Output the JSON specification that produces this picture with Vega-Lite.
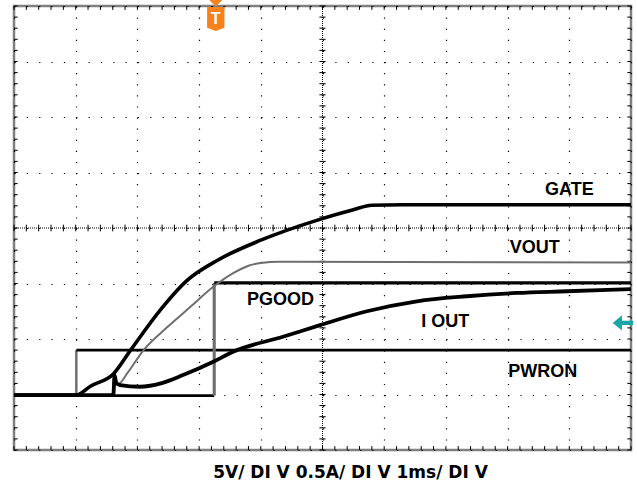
{
  "$schema": "https://vega.github.io/schema/vega-lite/v6.json",
  "autosize": "none",
  "width": 617,
  "height": 444,
  "padding": {"left": 14, "top": 6, "right": 6, "bottom": 35},
  "background": "white",
  "config": {"view": {"stroke": "#808080", "strokeWidth": 2.5}},
  "datasets": {
    "traces": [
      {"s": "PWRON low", "t": 0, "v": 0.99}, {"s": "PWRON low", "t": 1.01, "v": 0.99},
      {"s": "PWRON edge", "t": 1.01, "v": 0.99}, {"s": "PWRON edge", "t": 1.01, "v": 1.8},
      {"s": "PWRON high", "t": 1.01, "v": 1.8}, {"s": "PWRON high", "t": 10, "v": 1.8},
      {"s": "PGOOD low", "t": 0, "v": 0.98}, {"s": "PGOOD low", "t": 3.245, "v": 0.98},
      {"s": "PGOOD edge", "t": 3.245, "v": 0.98}, {"s": "PGOOD edge", "t": 3.245, "v": 3.01},
      {"s": "PGOOD high", "t": 3.245, "v": 3.01}, {"s": "PGOOD high", "t": 10, "v": 3.01},
      {"s": "VOUT", "t": 0, "v": 0.99}, {"s": "VOUT", "t": 1.61, "v": 0.99}, {"s": "VOUT", "t": 1.62, "v": 1.22},
      {"s": "VOUT", "t": 1.7, "v": 1.2}, {"s": "VOUT", "t": 1.84, "v": 1.39}, {"s": "VOUT", "t": 2.1, "v": 1.8},
      {"s": "VOUT", "t": 2.49, "v": 2.22}, {"s": "VOUT", "t": 2.86, "v": 2.58}, {"s": "VOUT", "t": 3.23, "v": 2.94},
      {"s": "VOUT", "t": 3.56, "v": 3.19}, {"s": "VOUT", "t": 3.8, "v": 3.32}, {"s": "VOUT", "t": 4.0, "v": 3.37},
      {"s": "VOUT", "t": 4.3, "v": 3.39}, {"s": "VOUT", "t": 10, "v": 3.38},
      {"s": "GATE", "t": 0, "v": 0.99}, {"s": "GATE", "t": 1.01, "v": 0.99}, {"s": "GATE", "t": 1.24, "v": 1.15},
      {"s": "GATE", "t": 1.61, "v": 1.37}, {"s": "GATE", "t": 1.89, "v": 1.8}, {"s": "GATE", "t": 2.37, "v": 2.52},
      {"s": "GATE", "t": 2.81, "v": 3.06}, {"s": "GATE", "t": 3.3, "v": 3.42}, {"s": "GATE", "t": 4.0, "v": 3.78},
      {"s": "GATE", "t": 4.97, "v": 4.16}, {"s": "GATE", "t": 5.5, "v": 4.33}, {"s": "GATE", "t": 5.8, "v": 4.41},
      {"s": "GATE", "t": 6.3, "v": 4.42}, {"s": "GATE", "t": 10, "v": 4.42},
      {"s": "IOUT", "t": 0, "v": 0.99}, {"s": "IOUT", "t": 1.61, "v": 0.99}, {"s": "IOUT", "t": 1.63, "v": 1.35},
      {"s": "IOUT", "t": 1.66, "v": 1.2}, {"s": "IOUT", "t": 1.72, "v": 1.17}, {"s": "IOUT", "t": 2.04, "v": 1.14},
      {"s": "IOUT", "t": 2.41, "v": 1.21}, {"s": "IOUT", "t": 2.74, "v": 1.35}, {"s": "IOUT", "t": 3.23, "v": 1.59},
      {"s": "IOUT", "t": 3.55, "v": 1.77}, {"s": "IOUT", "t": 4.36, "v": 2.04}, {"s": "IOUT", "t": 4.96, "v": 2.25},
      {"s": "IOUT", "t": 5.72, "v": 2.5}, {"s": "IOUT", "t": 6.53, "v": 2.68}, {"s": "IOUT", "t": 7.34, "v": 2.77},
      {"s": "IOUT", "t": 8.15, "v": 2.83}, {"s": "IOUT", "t": 8.96, "v": 2.86}, {"s": "IOUT", "t": 10, "v": 2.9}
    ],
    "labels": [
      {"label": "GATE", "t": 9.0, "v": 4.595},
      {"label": "VOUT", "t": 8.44, "v": 3.55},
      {"label": "PGOOD", "t": 4.32, "v": 2.61},
      {"label": "I OUT", "t": 6.99, "v": 2.22},
      {"label": "PWRON", "t": 8.57, "v": 1.32}
    ],
    "xs": [
      {"t": 0}, {"t": 0.2}, {"t": 0.4}, {"t": 0.6}, {"t": 0.8}, {"t": 1}, {"t": 1.2}, {"t": 1.4}, {"t": 1.6}, {"t": 1.8},
      {"t": 2}, {"t": 2.2}, {"t": 2.4}, {"t": 2.6}, {"t": 2.8}, {"t": 3}, {"t": 3.2}, {"t": 3.4}, {"t": 3.6}, {"t": 3.8},
      {"t": 4}, {"t": 4.2}, {"t": 4.4}, {"t": 4.6}, {"t": 4.8}, {"t": 5}, {"t": 5.2}, {"t": 5.4}, {"t": 5.6}, {"t": 5.8},
      {"t": 6}, {"t": 6.2}, {"t": 6.4}, {"t": 6.6}, {"t": 6.8}, {"t": 7}, {"t": 7.2}, {"t": 7.4}, {"t": 7.6}, {"t": 7.8},
      {"t": 8}, {"t": 8.2}, {"t": 8.4}, {"t": 8.6}, {"t": 8.8}, {"t": 9}, {"t": 9.2}, {"t": 9.4}, {"t": 9.6}, {"t": 9.8}, {"t": 10}
    ],
    "ys": [
      {"v": 0}, {"v": 0.2}, {"v": 0.4}, {"v": 0.6}, {"v": 0.8}, {"v": 1}, {"v": 1.2}, {"v": 1.4}, {"v": 1.6}, {"v": 1.8},
      {"v": 2}, {"v": 2.2}, {"v": 2.4}, {"v": 2.6}, {"v": 2.8}, {"v": 3}, {"v": 3.2}, {"v": 3.4}, {"v": 3.6}, {"v": 3.8},
      {"v": 4}, {"v": 4.2}, {"v": 4.4}, {"v": 4.6}, {"v": 4.8}, {"v": 5}, {"v": 5.2}, {"v": 5.4}, {"v": 5.6}, {"v": 5.8},
      {"v": 6}, {"v": 6.2}, {"v": 6.4}, {"v": 6.6}, {"v": 6.8}, {"v": 7}, {"v": 7.2}, {"v": 7.4}, {"v": 7.6}, {"v": 7.8}, {"v": 8}
    ],
    "trigger": [{"t": 3.27, "label": "T"}],
    "marker": [{"t": 9.87, "v": 2.29}]
  },
  "layer": [
    {
      "data": {"values": [{}]},
      "mark": {"type": "rule", "color": "black", "strokeWidth": 1, "strokeDash": [1, 1]},
      "encoding": {
        "x": {"datum": 5, "type": "quantitative", "scale": {"domain": [0, 10], "nice": false, "zero": false},
          "axis": {"values": [0, 1, 2, 3, 4, 5, 6, 7, 8, 9, 10], "grid": true, "gridColor": "black", "gridOpacity": 1,
            "gridWidth": 1.2, "gridDash": [1.2, 9.9], "ticks": false, "labels": false, "domain": false,
            "title": "5V/ DI V 0.5A/ DI V 1ms/ DI V", "titleFont": "DejaVu Sans", "titleFontSize": 17,
            "titleFontWeight": "bold", "titleColor": "black", "titleX": 336, "titleY": 27,
            "titleAlign": "center", "titleBaseline": "alphabetic", "titleAnchor": null}},
        "y": {"datum": 0, "type": "quantitative", "scale": {"domain": [0, 8], "nice": false, "zero": false},
          "axis": {"values": [0, 1, 2, 3, 4, 5, 6, 7, 8], "grid": true, "gridColor": "black", "gridOpacity": 1,
            "gridWidth": 1.2, "gridDash": [1.2, 11.14], "ticks": false, "labels": false, "domain": false, "title": null}},
        "y2": {"datum": 8}
      }
    },
    {
      "data": {"values": [{}]},
      "mark": {"type": "rule", "color": "black", "strokeWidth": 1, "strokeDash": [1, 1]},
      "encoding": {
        "y": {"datum": 4, "type": "quantitative"},
        "x": {"datum": 0, "type": "quantitative"},
        "x2": {"datum": 10}
      }
    },
    {
      "data": {"name": "xs"},
      "mark": {"type": "rule", "color": "black", "strokeWidth": 1},
      "encoding": {"x": {"field": "t", "type": "quantitative"}, "y": {"datum": 3.94}, "y2": {"datum": 4.06}}
    },
    {
      "data": {"name": "xs"},
      "mark": {"type": "rule", "color": "black", "strokeWidth": 1},
      "encoding": {"x": {"field": "t", "type": "quantitative"}, "y": {"datum": 0}, "y2": {"datum": 0.07}}
    },
    {
      "data": {"name": "xs"},
      "mark": {"type": "rule", "color": "black", "strokeWidth": 1},
      "encoding": {"x": {"field": "t", "type": "quantitative"}, "y": {"datum": 7.93}, "y2": {"datum": 8}}
    },
    {
      "data": {"name": "ys"},
      "mark": {"type": "rule", "color": "black", "strokeWidth": 1},
      "encoding": {"y": {"field": "v", "type": "quantitative"}, "x": {"datum": 4.95}, "x2": {"datum": 5.05}}
    },
    {
      "data": {"name": "ys"},
      "mark": {"type": "rule", "color": "black", "strokeWidth": 1},
      "encoding": {"y": {"field": "v", "type": "quantitative"}, "x": {"datum": 0}, "x2": {"datum": 0.06}}
    },
    {
      "data": {"name": "ys"},
      "mark": {"type": "rule", "color": "black", "strokeWidth": 1},
      "encoding": {"y": {"field": "v", "type": "quantitative"}, "x": {"datum": 9.94}, "x2": {"datum": 10}}
    },
    {
      "data": {"name": "traces"},
      "mark": {"type": "line", "interpolate": "monotone", "strokeCap": "butt"},
      "encoding": {
        "x": {"field": "t", "type": "quantitative"},
        "y": {"field": "v", "type": "quantitative"},
        "detail": {"field": "s"},
        "color": {"field": "s", "type": "nominal", "legend": null,
          "scale": {"domain": ["VOUT", "PWRON low", "PWRON edge", "PWRON high", "PGOOD low", "PGOOD edge", "PGOOD high", "GATE", "IOUT"],
            "range": ["#6e6e6e", "#000000", "#6e6e6e", "#000000", "#000000", "#6e6e6e", "#000000", "#000000", "#000000"]}},
        "strokeWidth": {"field": "s", "type": "nominal", "legend": null,
          "scale": {"domain": ["VOUT", "PWRON low", "PWRON edge", "PWRON high", "PGOOD low", "PGOOD edge", "PGOOD high", "GATE", "IOUT"],
            "range": [2, 3.8, 1.3, 3.8, 3.8, 1.3, 3.8, 3.8, 3.8]}}
      }
    },
    {
      "data": {"name": "labels"},
      "mark": {"type": "text", "font": "Liberation Sans", "fontSize": 18, "fontWeight": "bold", "color": "black", "align": "center", "baseline": "alphabetic"},
      "encoding": {
        "x": {"field": "t", "type": "quantitative"},
        "y": {"field": "v", "type": "quantitative"},
        "text": {"field": "label"}
      }
    },
    {
      "data": {"name": "trigger"},
      "mark": {"type": "point", "filled": true, "color": "#f7811d", "opacity": 1, "size": 169, "shape": "M-1,-0.5 L1,-0.5 L0,0.5 Z"},
      "encoding": {"x": {"field": "t", "type": "quantitative"}, "y": {"datum": 8.05}}
    },
    {
      "data": {"name": "trigger"},
      "mark": {"type": "point", "filled": true, "color": "#f7811d", "opacity": 1, "size": 300, "shape": "M-1,-1.375 L1,-1.375 L1,1.0 L0,1.375 L-1,1.0 Z"},
      "encoding": {"x": {"field": "t", "type": "quantitative"}, "y": {"datum": 7.766}}
    },
    {
      "data": {"name": "trigger"},
      "mark": {"type": "text", "font": "Liberation Sans", "fontSize": 16, "fontWeight": "bold", "color": "white", "align": "center", "baseline": "middle"},
      "encoding": {"x": {"field": "t", "type": "quantitative"}, "y": {"datum": 7.766}, "text": {"field": "label"}}
    },
    {
      "data": {"name": "marker"},
      "mark": {"type": "point", "filled": true, "color": "#1aa6a6", "opacity": 1, "size": 420, "shape": "M-1,0 L-0.1,-0.75 L-0.1,-0.2 L1,-0.2 L1,0.2 L-0.1,0.2 L-0.1,0.75 Z"},
      "encoding": {"x": {"field": "t", "type": "quantitative"}, "y": {"field": "v", "type": "quantitative"}}
    }
  ]
}
